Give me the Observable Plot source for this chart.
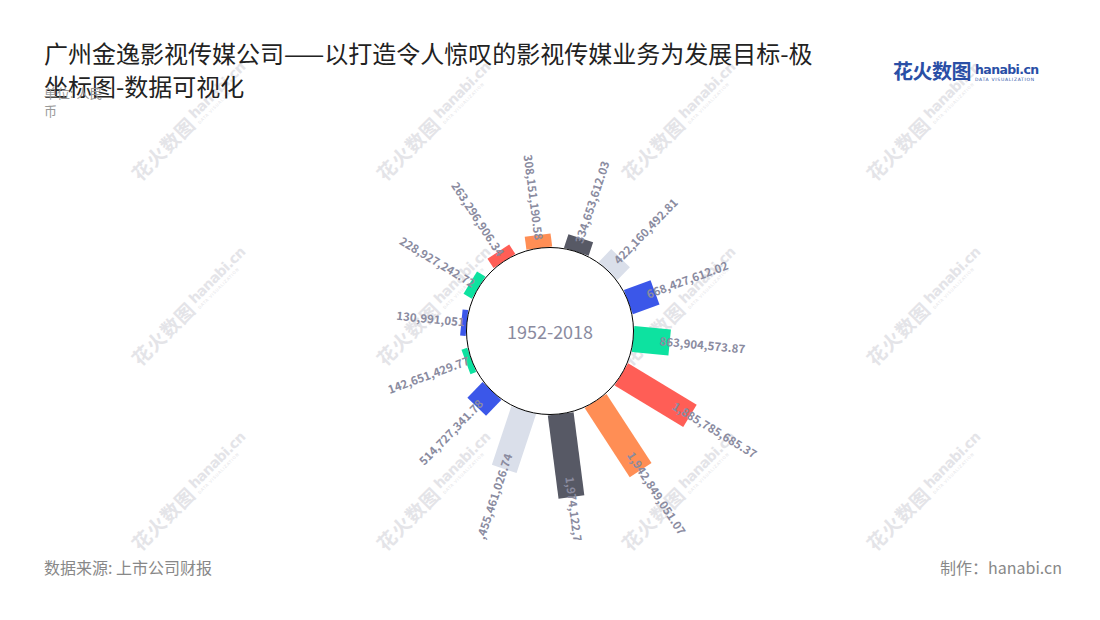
<!DOCTYPE html>
<html>
<head>
<meta charset="utf-8">
<script src="https://cdn.jsdelivr.net/npm/d3@7"></script>
<script src="https://cdn.jsdelivr.net/npm/@observablehq/plot@0.6"></script>
<style>
  body { margin: 0; background: #fff; font-family: "Noto Sans CJK SC", "Noto Sans", sans-serif; }
  #page { position: relative; width: 1100px; height: 620px; overflow: hidden; background: #fff; }
  #wm { position: absolute; left: 0; top: 0; width: 1100px; height: 620px; pointer-events: none; }
  .wmk { position: absolute; transform-origin: 0 0; transform: rotate(-45deg); white-space: nowrap; color: #e4e4e8; }
  .wmk .cn { font-size: 19px; font-weight: 700; letter-spacing: 1px; vertical-align: middle; }
  .wmk .en { display: inline-block; vertical-align: middle; margin-left: 3px; }
  .wmk .en .h { display: block; font-size: 14px; font-weight: 700; line-height: 15px; font-family: "DejaVu Sans", sans-serif; letter-spacing: -0.5px; }
  .wmk .en .s { display: block; font-size: 4px; line-height: 5px; letter-spacing: 0.8px; font-family: "DejaVu Sans", sans-serif; }
  #chart { position: absolute; left: 0; top: 0; width: 1100px; height: 540px; overflow: hidden; }
  #title { position: absolute; left: 44px; top: 36px; width: 780px; font-size: 24px; line-height: 33px; color: #222; }
  #unit { position: absolute; left: 44px; top: 84px; width: 70px; font-size: 13px; line-height: 18px; color: #999; }
  #logo { position: absolute; left: 893px; top: 60px; white-space: nowrap; color: #2a4fa6; }
  #logo .cn { font-size: 20px; font-weight: 700; line-height: 22px; vertical-align: top; letter-spacing: -0.5px; }
  #logo .en { display: inline-block; margin-left: 4px; margin-top: 3px; vertical-align: top; }
  #logo .en .h { font-size: 12.5px; font-weight: 700; line-height: 14px; display: block; font-family: "DejaVu Sans", sans-serif; letter-spacing: -0.6px; }
  #logo .en .s { font-size: 4.5px; line-height: 6px; display: block; letter-spacing: 0.7px; font-family: "DejaVu Sans", sans-serif; }
  #source { position: absolute; left: 44px; top: 557px; font-size: 16px; line-height: 20px; color: #888; }
  #credit { position: absolute; right: 38px; top: 557px; font-size: 16px; line-height: 20px; color: #888; }
</style>
</head>
<body>
<div id="page">
  <div id="wm"></div>
  <div id="chart"></div>
  <div id="title">广州金逸影视传媒公司——以打造令人惊叹的影视传媒业务为发展目标-极坐标图-数据可视化</div>
  <div id="unit">单位: 人民币</div>
  <div id="logo"><span class="cn">花火数图</span><span class="en"><span class="h">hanabi.cn</span><span class="s">DATA VISUALIZATION</span></span></div>
  <div id="source">数据来源: 上市公司财报</div>
  <div id="credit">制作：hanabi.cn</div>
</div>
<script>
// ---- data (clockwise, first bar just right of top) ----
const values = [
  334653612.03, 422160492.81, 668427612.02, 863904573.87,
  1885785685.37, 1942849051.07, 1974122720, 1455461026.74,
  514727341.78, 142651429.77, 130991051, 228927242.72,
  263296906.34, 308151190.58
];
const colors = [
  "#575965", "#dadfea", "#3b57e9", "#0de2a0",
  "#ff5e56", "#ff8e55", "#575965", "#dadfea",
  "#3b57e9", "#0de2a0", "#3b57e9", "#0de2a0",
  "#ff5e56", "#ff8e55"
];
const period = "1952-2018";

// ---- watermarks ----
const wm = document.getElementById("wm");
for (let r = 0; r < 3; r++) {
  for (let c = 0; c < 4; c++) {
    const d = document.createElement("div");
    d.className = "wmk";
    d.style.left = (124 + c * 245) + "px";
    d.style.top = (166 + r * 185) + "px";
    d.innerHTML = '<span class="cn">花火数图</span><span class="en"><span class="h">hanabi.cn</span><span class="s">DATA VISUALIZATION</span></span>';
    wm.appendChild(d);
  }
}

// ---- polar geometry via scales ----
const innerR = 83.5;
const angle = d3.scaleBand(d3.range(values.length), [5.5, 365.5]);
const radius = d3.scaleLinear([0, 2e9], [innerR, innerR + 85]);
const fmt = d3.format(",");

const rows = values.map((v, i) => {
  const th = angle(i) + angle.bandwidth() / 2;
  const a = th * Math.PI / 180;
  const s = Math.sin(a), c = Math.cos(a);
  const r1 = radius(v);
  const rl = r1 - (2 + 0.22 * (r1 - innerR));
  const right = (th % 360) < 180;
  return {
    v, color: colors[i], th, right,
    x0: radius(0) * s, y0: radius(0) * c,
    x1: r1 * s, y1: r1 * c,
    lx: rl * s, ly: rl * c,
    rot: right ? th - 90 : th - 270,
    label: fmt(v)
  };
});

const labelStyle = { fill: "#8a8b9f", fontSize: 11.5, fontWeight: 700, fontFamily: "Noto Sans CJK SC" };

const chart = Plot.plot({
  width: 1100,
  height: 540,
  margin: 0,
  x: { domain: [-549.5, 550.5], axis: null },
  y: { domain: [-209.5, 330.5], axis: null },
  color: { type: "identity" },
  style: { background: "transparent", fontFamily: "Noto Sans CJK SC", overflow: "hidden" },
  marks: [
    Plot.link(rows, { x1: "x0", y1: "y0", x2: "x1", y2: "y1", stroke: "color", strokeWidth: 26, strokeLinecap: "butt" }),
    Plot.dot([{ x: 0, y: 0 }], { x: "x", y: "y", r: innerR, fill: "white", stroke: "#000", strokeWidth: 1 }),
    Plot.text(rows.filter(d => d.right), { x: "lx", y: "ly", text: "label", rotate: "rot", textAnchor: "start", ...labelStyle }),
    Plot.text(rows.filter(d => !d.right), { x: "lx", y: "ly", text: "label", rotate: "rot", textAnchor: "end", ...labelStyle }),
    Plot.text([{ x: 0, y: 0, t: period }], { x: "x", y: "y", text: "t", dy: 2, fill: "#8a8b9f", fontSize: 18, fontFamily: "Noto Sans CJK SC" })
  ]
});
document.getElementById("chart").appendChild(chart);
</script>
</body>
</html>
